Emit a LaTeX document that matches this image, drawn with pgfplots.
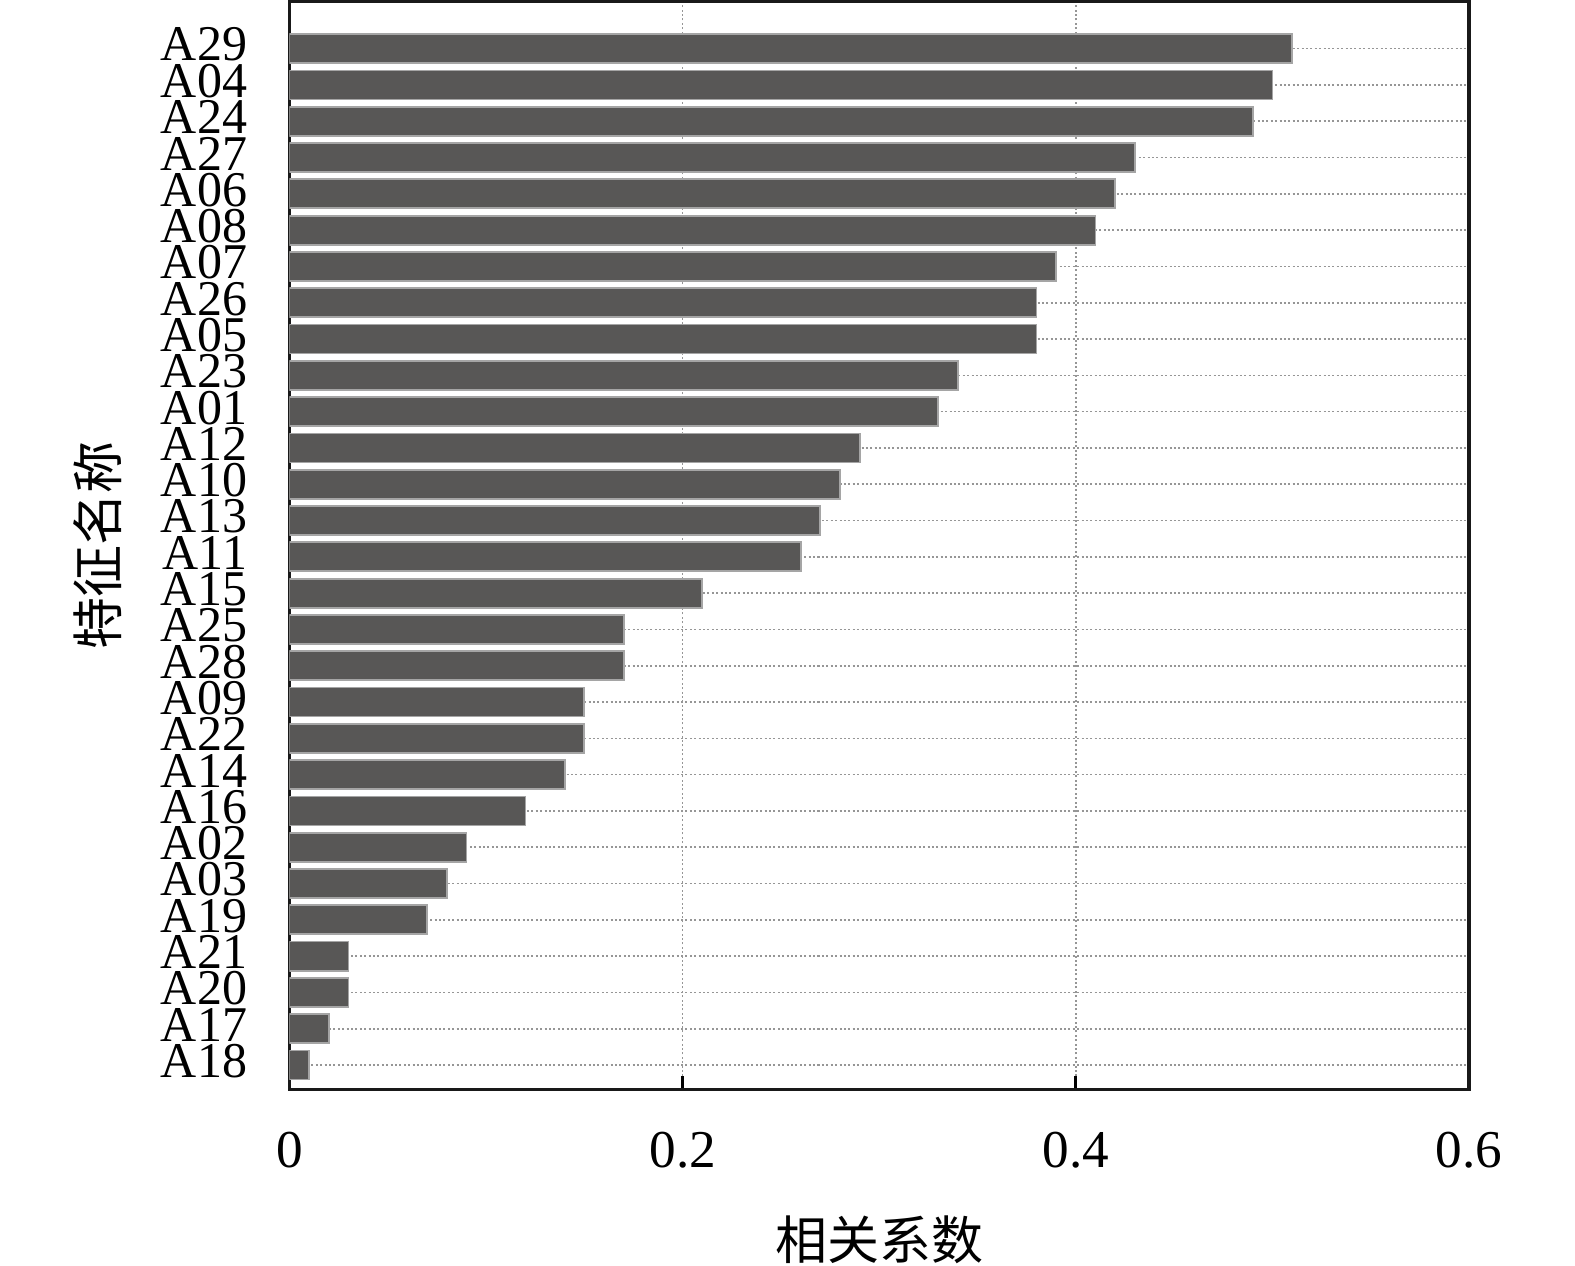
\documentclass[border=0pt]{standalone}
\usepackage{fontspec}
\setmainfont{Liberation Serif}
\newfontfamily\cjk{Noto Sans CJK SC}
\usepackage{pgfplots}
\pgfplotsset{compat=1.18}
\usepackage{pgfplotstable}
\definecolor{barfill}{RGB}{88,87,86}
\definecolor{baredge}{RGB}{165,165,165}
\definecolor{gridc}{RGB}{150,150,150}
\pgfplotstableread{
idx val
0 0.01
1 0.02
2 0.03
3 0.03
4 0.07
5 0.08
6 0.09
7 0.12
8 0.14
9 0.15
10 0.15
11 0.17
12 0.17
13 0.21
14 0.26
15 0.27
16 0.28
17 0.29
18 0.33
19 0.34
20 0.38
21 0.38
22 0.39
23 0.41
24 0.42
25 0.43
26 0.49
27 0.50
28 0.51
}\datatable
\begin{document}
\begin{tikzpicture}
\useasboundingbox (-72.375pt,-43.875pt) rectangle (321.375pt,272.375pt);
\begin{axis}[
  at={(0,0)}, anchor=south west,
  scale only axis, width=294.9pt, height=272pt,
  xbar, bar width=0.8,
  xmin=0, xmax=0.6, ymin=-0.675, ymax=29.3,
  xtick={0,0.2,0.4,0.6},
  xticklabels={0,0.2,0.4,0.6},
  ytick={0,...,28},
  yticklabels={A18,A17,A20,A21,A19,A03,A02,A16,A14,A22,A09,A28,A25,A15,A11,A13,A10,A12,A01,A23,A05,A26,A07,A08,A06,A27,A24,A04,A29},
  xtick pos=left, tick align=inside,
  major tick length=3.3pt,
  ytick style={draw=none},
  xtick style={black, line width=0.8pt},
  axis line style={black!90, line width=0.8pt},
  xmajorgrids, ymajorgrids,
  major grid style={gridc, line width=0.4pt, dash pattern=on 0.5pt off 0.6pt},
  xticklabel style={font=\fontsize{13.3}{14}\selectfont, anchor=center, inner sep=0pt, yshift=-15.1pt},
  yticklabel style={font=\fontsize{12.5}{13}\selectfont, anchor=east, inner sep=0pt, xshift=-10.4pt, yshift=1pt},
  xlabel={\cjk 相关系数},
  ylabel={\cjk 特征名称},
  xlabel style={font=\fontsize{13}{14}\selectfont, at={(rel axis cs:0.5,0)}, anchor=center, yshift=-37.5pt},
  ylabel style={font=\fontsize{13}{14}\selectfont, at={(axis description cs:-0.1624,0.5)}, anchor=center},
]
\addplot[fill=barfill, draw=baredge, line width=0.45pt] table[x=val, y=idx] {\datatable};
\end{axis}
\end{tikzpicture}
\end{document}
